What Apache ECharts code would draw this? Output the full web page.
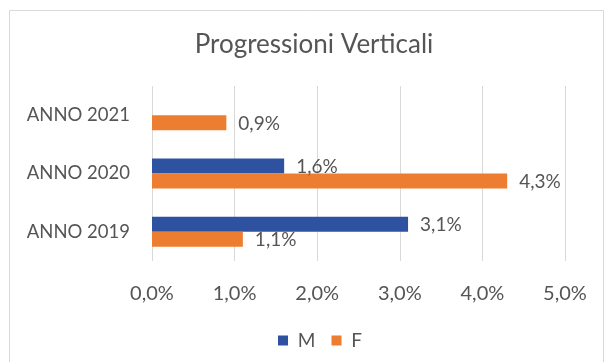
<!DOCTYPE html>
<html>
<head>
<meta charset="utf-8">
<script src="https://cdn.jsdelivr.net/npm/echarts@6/dist/echarts.min.js"></script>
<style>
  html, body { margin: 0; padding: 0; background: #ffffff; }
  #chart { width: 605px; height: 362px; }
</style>
</head>
<body>
<div id="chart"></div>
<script>
// Categories (bottom to top) and percentage values per series
const categories = ['ANNO 2019', 'ANNO 2020', 'ANNO 2021'];
const seriesNames = ['M', 'F'];
const valuesM = [3.1, 1.6, null];
const valuesF = [1.1, 4.3, 0.9];
const axisTicks = [0, 1, 2, 3, 4, 5];

const textColor = '#555555';
const font = 'Lato';
const pct = v => v.toFixed(1).replace('.', ',') + '%';

const chart = echarts.init(document.getElementById('chart'), null, { renderer: 'canvas' });

chart.setOption({
  backgroundColor: '#ffffff',
  animation: false,
  title: {
    text: 'Progressioni Verticali',
    left: 309,
    top: 27,
    textAlign: 'center',
    textStyle: { fontFamily: font, fontSize: 26, fontWeight: 'normal', color: textColor }
  },
  graphic: [{
    type: 'rect',
    shape: { x: 9.5, y: 10.5, width: 594, height: 360 },
    style: { fill: 'none', stroke: '#d9d9d9', lineWidth: 1 },
    silent: true
  }],
  legend: {
    data: seriesNames,
    left: 273,
    top: 326,
    icon: 'rect',
    itemWidth: 10,
    itemHeight: 10,
    itemGap: 16,
    formatter: name => ' ' + name,
    textStyle: { fontFamily: font, fontSize: 19, color: textColor }
  },
  grid: { left: 152, right: 40, top: 86, bottom: 101, containLabel: false },
  xAxis: {
    type: 'value',
    min: axisTicks[0],
    max: axisTicks[axisTicks.length - 1],
    interval: 1,
    axisLine: { show: false },
    axisTick: { show: false },
    splitLine: { lineStyle: { color: '#d9d9d9', width: 1 } },
    axisLabel: {
      margin: 23,
      fontFamily: font, fontSize: 20, color: textColor,
      formatter: v => pct(v)
    }
  },
  yAxis: {
    type: 'category',
    data: categories,
    axisLine: { show: false },
    axisTick: { show: false },
    axisLabel: { margin: 22, fontFamily: font, fontSize: 18.5, color: textColor }
  },
  series: [
    {
      name: 'M', type: 'bar', data: valuesM,
      barWidth: 15, barGap: '0%',
      itemStyle: { color: '#2f52a0' },
      label: {
        show: true, position: 'right', distance: 12, offset: [0, 1],
        fontFamily: font, fontSize: 19, color: textColor,
        formatter: p => p.value == null ? '' : pct(p.value)
      }
    },
    {
      name: 'F', type: 'bar', data: valuesF,
      barWidth: 15, barGap: '0%',
      itemStyle: { color: '#ed7d31' },
      label: {
        show: true, position: 'right', distance: 12, offset: [0, 1],
        fontFamily: font, fontSize: 19, color: textColor,
        formatter: p => pct(p.value)
      }
    }
  ]
});
</script>
</body>
</html>
